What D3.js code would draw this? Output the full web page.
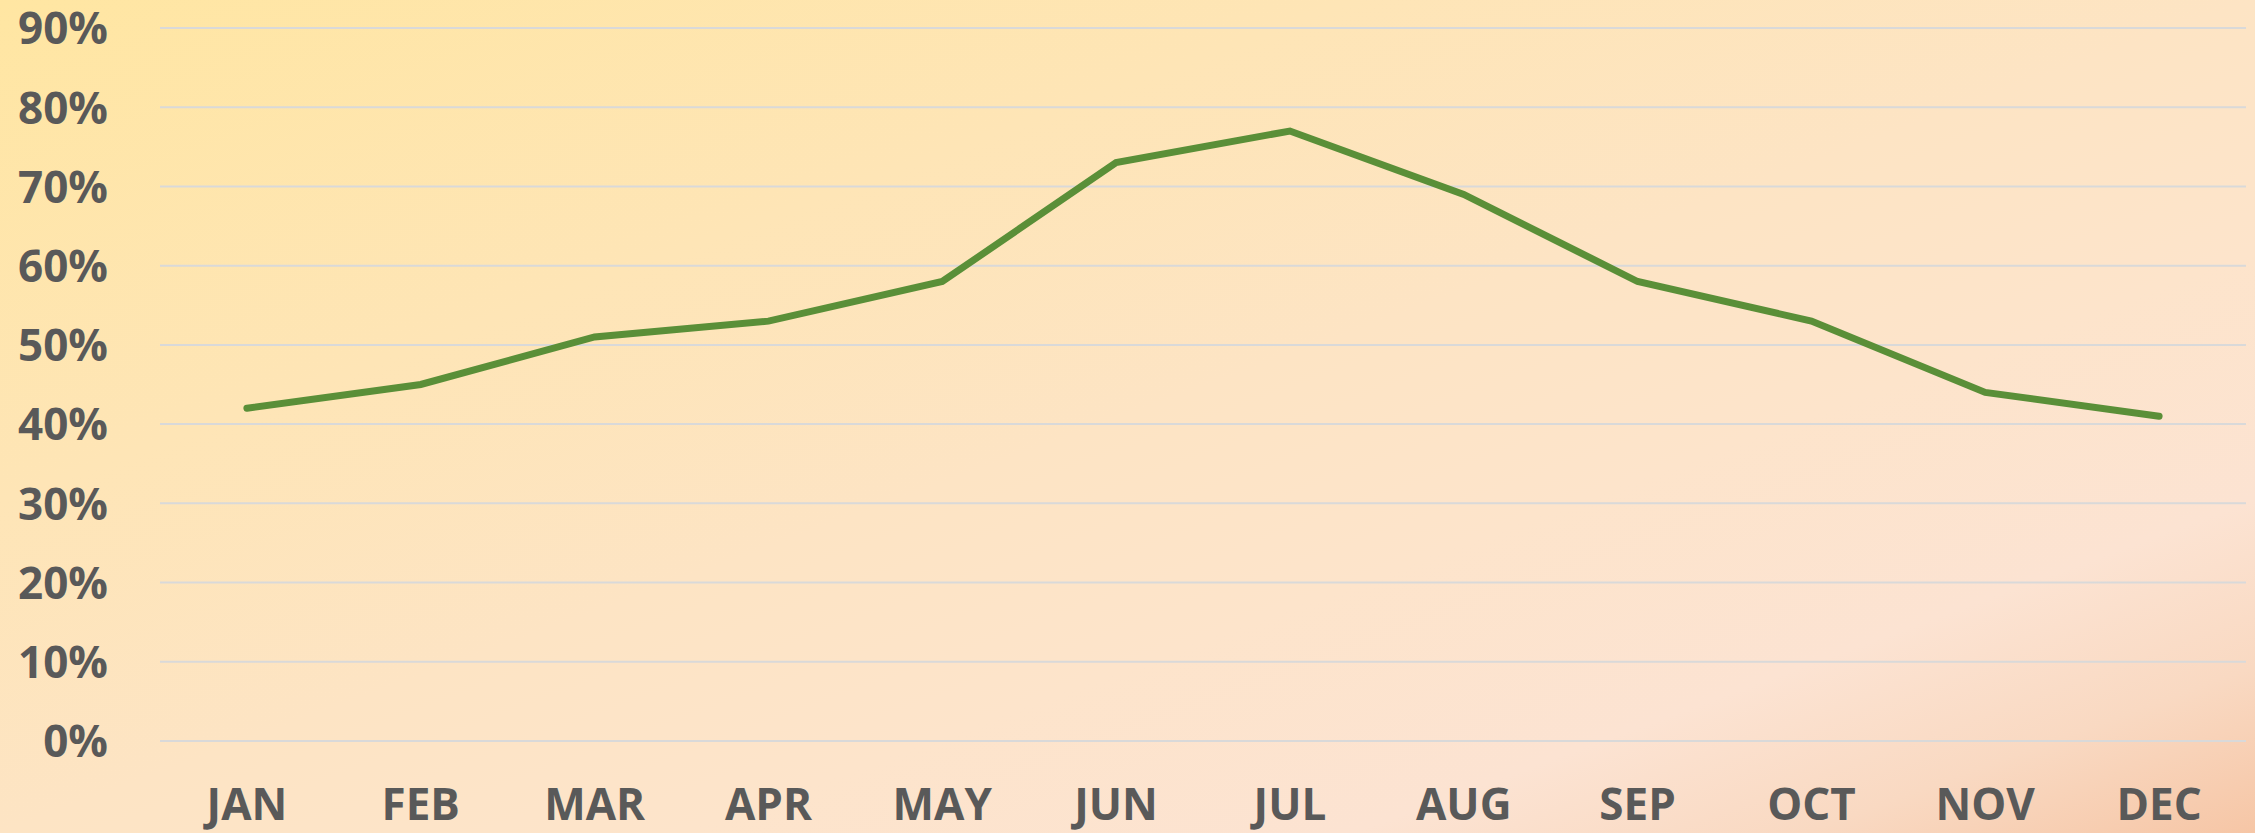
<!DOCTYPE html>
<html>
<head>
<meta charset="utf-8">
<script src="https://cdn.jsdelivr.net/npm/d3@7"></script>
<style>
  html, body { margin: 0; padding: 0; overflow: hidden; }
  svg { display: block; }
  .tick text { font-family: "Open Sans", sans-serif; font-weight: 700; fill: #595959; }
</style>
</head>
<body>
<svg width="2255" height="833"></svg>
<script>
// chart data
var months = ["JAN", "FEB", "MAR", "APR", "MAY", "JUN", "JUL", "AUG", "SEP", "OCT", "NOV", "DEC"];
var values = [0.42, 0.45, 0.51, 0.53, 0.58, 0.73, 0.77, 0.69, 0.58, 0.53, 0.44, 0.41];
var yTicks = [0, 0.1, 0.2, 0.3, 0.4, 0.5, 0.6, 0.7, 0.8, 0.9];

var svg = d3.select("svg"),
    W = +svg.attr("width"),
    H = +svg.attr("height"),
    margin = {top: 28, right: 9, bottom: 92, left: 160},
    width = W - margin.left - margin.right,
    height = H - margin.top - margin.bottom;

// background gradient
var defs = svg.append("defs");
var grad = defs.append("linearGradient")
    .attr("id", "bg")
    .attr("x1", 0).attr("y1", 0).attr("x2", 1).attr("y2", 1);
[[0, "#ffe6a2"], [0.3, "#fee5b6"], [0.5, "#fde4c4"], [0.65, "#fde4cb"],
 [0.8, "#fce3d2"], [0.9, "#f9d9c2"], [1, "#f6c6a6"]].forEach(function(s) {
  grad.append("stop").attr("offset", s[0]).attr("stop-color", s[1]);
});
svg.append("rect").attr("width", W).attr("height", H).attr("fill", "url(#bg)");

var x = d3.scaleBand().domain(months).range([0, width]).padding(0),
    y = d3.scaleLinear().domain([0, 0.9]).range([height, 0]);

var g = svg.append("g")
    .attr("transform", "translate(" + margin.left + "," + margin.top + ")");

// gridlines
g.selectAll(".grid")
  .data(yTicks)
  .enter().append("line")
    .attr("class", "grid")
    .attr("x1", 0).attr("x2", width)
    .attr("y1", function(d) { return y(d); })
    .attr("y2", function(d) { return y(d); })
    .attr("stroke", "#d9d9d9")
    .attr("stroke-width", 2);

// y axis
var yAxis = g.append("g")
    .call(d3.axisLeft(y).tickValues(yTicks).tickFormat(d3.format(".0%")).tickSize(0).tickPadding(52));
yAxis.select(".domain").remove();
yAxis.selectAll("text").attr("font-size", 44).attr("dy", "0.36em");

// x axis
var xAxis = g.append("g")
    .attr("transform", "translate(0," + height + ")")
    .call(d3.axisBottom(x).tickSize(0).tickPadding(48));
xAxis.select(".domain").remove();
xAxis.selectAll("text").attr("font-size", 44).attr("dy", "0.71em");

// line
var line = d3.line()
    .x(function(d, i) { return x(months[i]) + x.bandwidth() / 2; })
    .y(function(d) { return y(d); });

g.append("path")
    .datum(values)
    .attr("fill", "none")
    .attr("stroke", "#5a8f38")
    .attr("stroke-width", 7)
    .attr("stroke-linecap", "round")
    .attr("stroke-linejoin", "miter")
    .attr("d", line);
</script>
</body>
</html>
